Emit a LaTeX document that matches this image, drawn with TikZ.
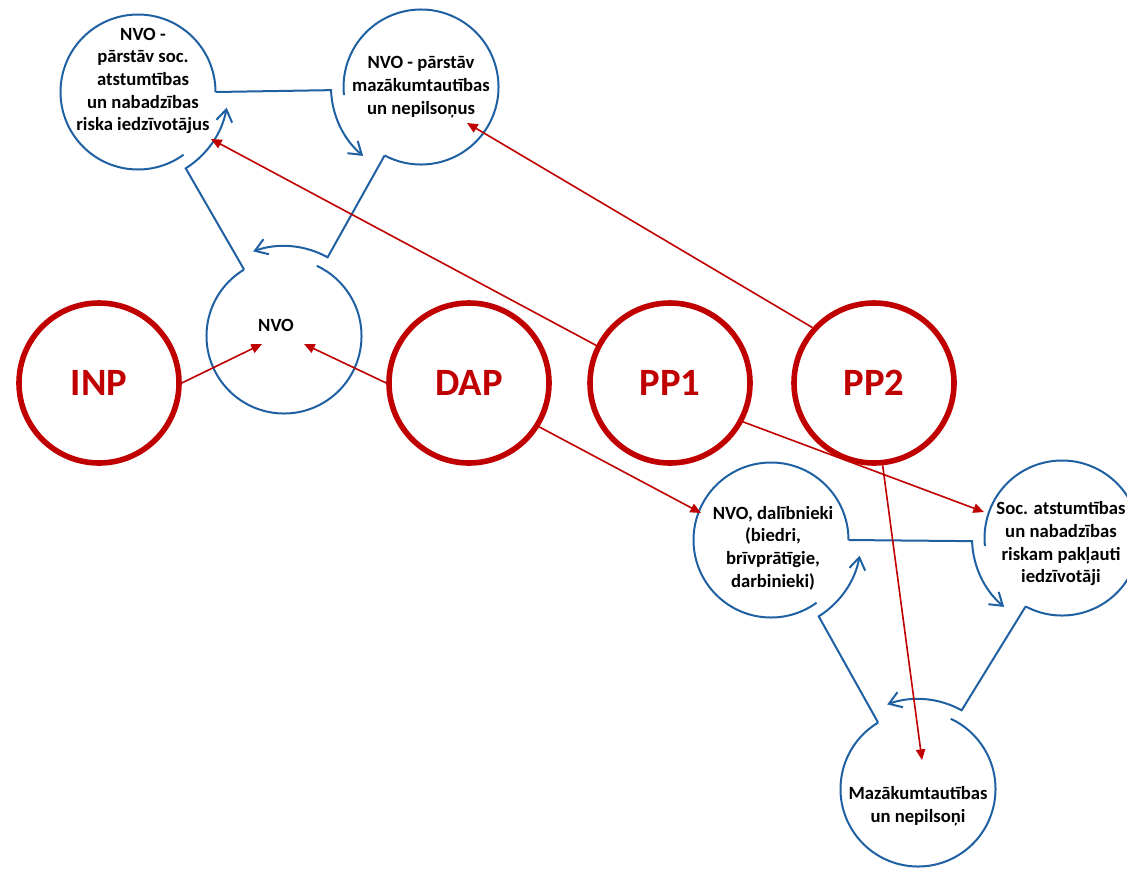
\documentclass[tikz,border=0pt]{standalone}
\usepackage{fontspec}
\setmainfont{Carlito}
\usepackage{tikz}
\usetikzlibrary{calc,arrows.meta}
\definecolor{darkred}{RGB}{192,0,0}
\definecolor{darkblue}{RGB}{31,96,163}
\newcommand{\smallrad}{77.5}
\newcommand{\arrowrad}{90}

\begin{document}
\begin{tikzpicture}[x=0.75pt,y=0.75pt]

  \tikzstyle{redcirclenode}=[draw=darkred,line width=4.2pt,shape=circle,minimum size=120pt,inner sep=0pt,text=darkred,font=\bfseries\fontsize{29}{34}\selectfont]
  \tikzstyle{bluetextnode}=[align=center,inner sep=0pt,font=\bfseries\fontsize{14}{17}\selectfont]
  \tikzstyle{cycleline}=[darkblue,line width=1.5pt]
  \tikzstyle{cyclearrow}=[cycleline,-{Straight Barb[length=9pt,width=12pt]}]
  \tikzstyle{redarrow}=[darkred,line width=1.2pt,-{Triangle[length=8pt,width=7pt]}]

  \useasboundingbox (0,0) rectangle (1127,-868);

  \node[redcirclenode] (inp) at (99,-383)  {INP};
  \node[redcirclenode] (dap) at (469,-383) {DAP};
  \node[redcirclenode] (pp1) at (670,-383) {PP1};
  \node[redcirclenode] (pp2) at (874,-383) {PP2};

  \coordinate (nvosoc) at (138,-92);
  \coordinate (nvomaz) at (421,-87);
  \coordinate (nvo)    at (284,-336);
  \coordinate (dal)    at (771,-540);
  \coordinate (soc)    at (1062,-538);
  \coordinate (maz)    at (918,-789);

  \node[bluetextnode] (nvosoctext) at (143,-81)  {NVO -\\pārstāv soc.\\atstumtības\\un nabadzības\\riska iedzīvotājus};
  \node[bluetextnode] (nvomaztext) at (421,-87)  {NVO - pārstāv\\mazākumtautības\\un nepilsoņus};
  \node[bluetextnode] (nvotext)    at (276,-325) {NVO};
  \node[bluetextnode] (daltext)    at (773,-548) {NVO, dalībnieki\\(biedri,\\brīvprātīgie,\\darbinieki)};
  \node[bluetextnode] (soctext)    at (1061,-544) {Soc. atstumtības\\un nabadzības\\riskam pakļauti\\iedzīvotāji};
  \node[bluetextnode] (maztext)    at (918,-806) {Mazākumtautības\\un nepilsoņi};

  % the two cycles
  \foreach \a/\b/\c in {nvosoc/nvomaz/nvo, dal/soc/maz}{
    \draw[cycleline] ($(\a)+(0:\smallrad)$) arc[start angle=0,end angle=306,radius=\smallrad];
    \draw[cycleline] ($(\b)+(242:\smallrad)$) arc[start angle=242,end angle=546,radius=\smallrad];
    \draw[cycleline] ($(\c)+(121:\smallrad)$) arc[start angle=121,end angle=425,radius=\smallrad];
    \draw[cyclearrow] ($(\a)+(0:\smallrad)$) -- ($(\b)+(182:\arrowrad)$) arc[start angle=182,end angle=230,radius=\arrowrad];
    \draw[cyclearrow] ($(\b)+(242:\smallrad)$) -- ($(\c)+(61:\arrowrad)$) arc[start angle=61,end angle=110,radius=\arrowrad];
    \draw[cyclearrow] ($(\c)+(121:\smallrad)$) -- ($(\a)+(-58:\arrowrad)$) arc[start angle=-58,end angle=-10,radius=\arrowrad];
  }

  \draw[redarrow] (inp.east) -- ($(nvo)+(-22,-8)$);
  \draw[redarrow] (dap.west) -- ($(nvo)+(20,-8)$);
  \draw[redarrow] (pp1.153)  -- ($(nvosoc)+(73,-47)$);
  \draw[redarrow] (pp2.138)  -- ($(nvomaz)+(46,-36)$);
  \draw[redarrow] (dap.-32)  -- ($(dal)+(-70,27)$);
  \draw[redarrow] (pp1.-28)  -- ($(soc)+(-78,26)$);
  \draw[redarrow] (pp2.-84)  -- ($(maz)+(4,29)$);

\end{tikzpicture}
\end{document}
